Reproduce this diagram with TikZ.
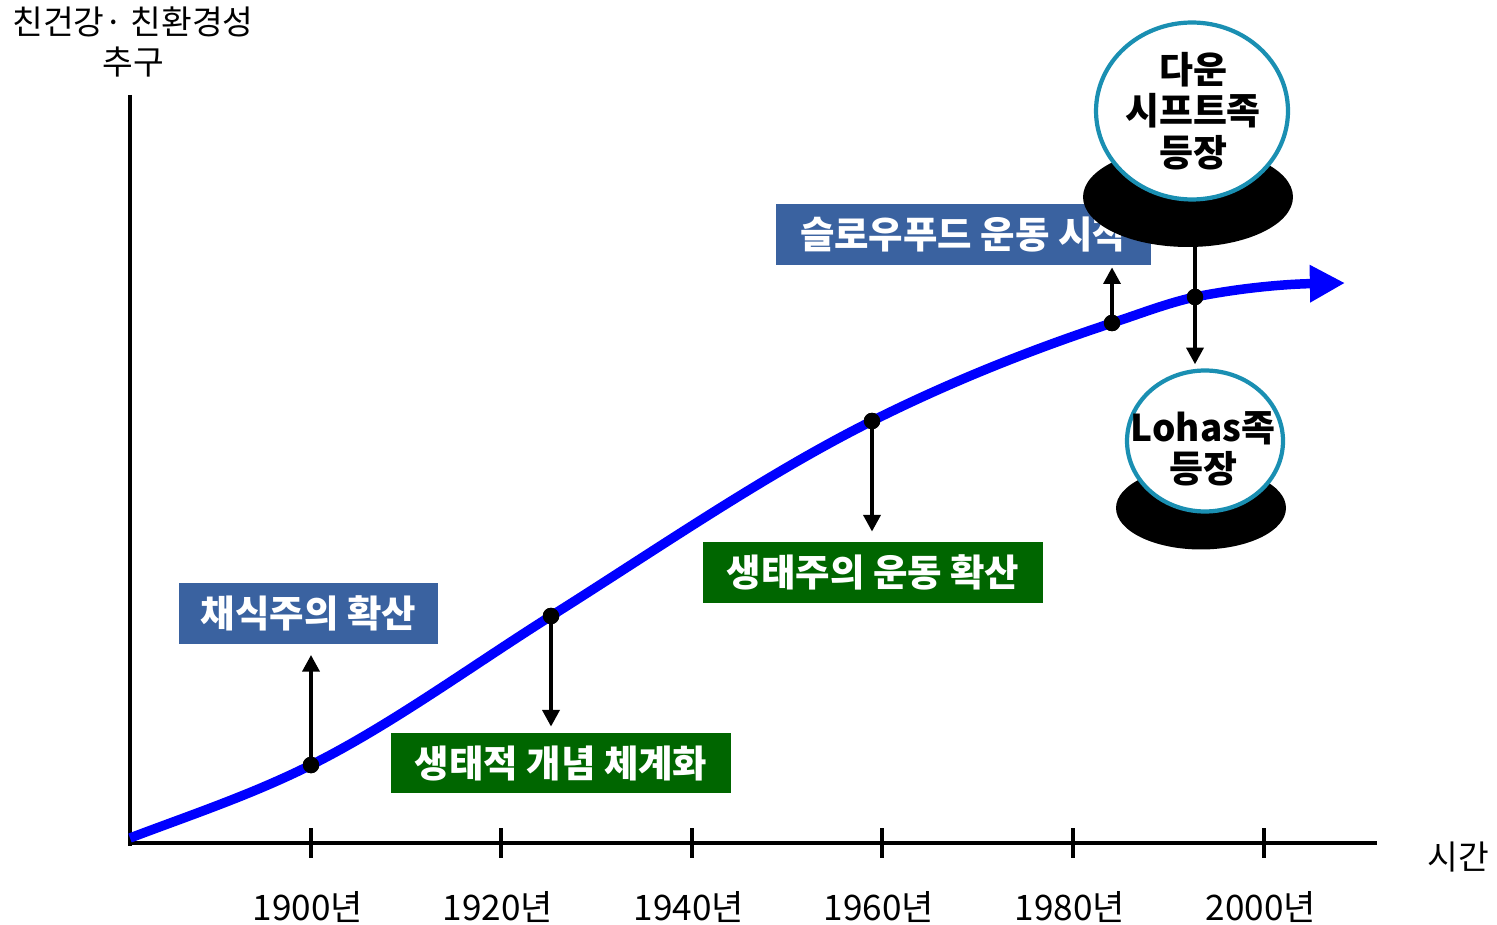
\documentclass[tikz,border=0pt]{standalone}
\usepackage{fontspec}
\setmainfont{Noto Sans CJK KR}
\usetikzlibrary{arrows.meta,shapes.geometric}
\definecolor{boxblue}{HTML}{3A62A0}
\definecolor{boxgreen}{HTML}{006600}
\definecolor{teal1}{HTML}{1A8FB2}
\definecolor{curveblue}{HTML}{0000FF}
\begin{document}
\begin{tikzpicture}[x=0.02cm,y=-0.02cm,
  axis/.style={line width=2.8pt},
  tick/.style={line width=2.8pt},
  ticklabel/.style={font=\fontsize{20}{24}\selectfont},
  dot/.style={circle,fill=black,inner sep=0pt,minimum size=0.33cm},
  arr/.style={line width=2.6pt,-{Triangle[length=9.5pt,width=9.5pt]}},
  bluebox/.style={fill=boxblue,text=white,font=\bfseries\fontsize{21.3}{24}\selectfont,inner sep=0pt},
  greenbox/.style={fill=boxgreen,text=white,font=\bfseries\fontsize{21.3}{24}\selectfont,inner sep=0pt},
  base/.style={ellipse,fill=black,inner sep=0pt},
  bubble/.style={ellipse,draw=teal1,line width=2.4pt,fill=white,inner sep=0pt},
  bubbletext/.style={align=center,inner sep=0pt,font=\bfseries\fontsize{21}{23.5}\selectfont}
]
\useasboundingbox (0,0) rectangle (1497,925);
% axes
\coordinate (ytop) at (130,95);
\coordinate (ybot) at (130,845.8);
\coordinate (xstart) at (128,843);
\coordinate (xend) at (1377,843);
\draw[axis] (ytop) -- (ybot);
\draw[axis] (xstart) -- (xend);
\foreach \x/\lab in {311/1900,501/1920,692/1940,882/1960,1073/1980,1264/2000}{
  \draw[tick] (\x,828) -- (\x,858);
  \node[ticklabel] at (\x-3,907) {\lab 년};
}
\node[font=\fontsize{19}{22.7}\selectfont,align=center] (ylab) at (133,42) {친건강· 친환경성\\추구};
\node[font=\fontsize{19}{22}\selectfont] (xlab) at (1458,857) {시간};
% curve points
\coordinate (c0) at (130,838);
\node[dot] (p1) at (311,765) {};
\node[dot] (p2) at (551,616) {};
\node[dot] (p3) at (872,421) {};
\node[dot] (p4) at (1112,323) {};
\node[dot] (p5) at (1195,297) {};
\coordinate (cend) at (1345,283);
\draw[curveblue,line width=5.4pt,-{Triangle[length=20pt,width=20pt]}]
  (c0) .. controls (190,815.2) and (251,795) .. (p1.center)
  .. controls (391,725) and (471,666.4) .. (p2.center)
  .. controls (658,548.6) and (765,474.5) .. (p3.center)
  .. controls (952,381) and (1032,349.4) .. (p4.center)
  .. controls (1139.7,313.9) and (1167.3,303.1) .. (p5.center)
  .. controls (1245,287) and (1290,284) .. (cend);
\node[dot] at (p1) {};
\node[dot] at (p2) {};
\node[dot] at (p3) {};
\node[dot] at (p4) {};
\node[dot] at (p5) {};
% boxes
\node[bluebox,minimum width=5.18cm,minimum height=1.22cm] (b1) at (308.5,613.5) {채식주의 확산};
\node[greenbox,minimum width=6.8cm,minimum height=1.2cm] (b2) at (561,763) {생태적 개념 체계화};
\node[greenbox,minimum width=6.8cm,minimum height=1.22cm] (b3) at (873,572.5) {생태주의 운동 확산};
\node[bluebox,minimum width=7.5cm,minimum height=1.22cm] (b4) at (963.5,234.5) {슬로우푸드 운동 시작};
% arrows
\draw[arr,shorten >=6pt] (p1.center) -- (p1 |- b1.south);
\draw[arr,shorten >=3.4pt] (p2.center) -- (p2 |- b2.north);
\draw[arr,shorten >=5.7pt] (p3.center) -- (p3 |- b3.north);
\draw[arr,shorten >=1.1pt] (p4.center) -- (p4 |- b4.south);
% bubbles
\node[base,minimum width=4.2cm,minimum height=2cm] (e1) at (1188,197) {};
\node[base,minimum width=3.4cm,minimum height=1.66cm] (e2) at (1201,508) {};
\draw[line width=2.6pt] (p5.center) -- (p5 |- e1.south);
\node[bubble,minimum width=3.84cm,minimum height=3.54cm] (c1) at (1192,111) {};
\node[bubbletext] (t1) at (1193,111) {다운\\시프트족\\등장};
\node[bubble,minimum width=3.12cm,minimum height=2.82cm] (c2) at (1205,441) {};
\node[bubbletext] (t2) at (1203,449) {Lohas족\\등장};
\draw[arr,shorten >=2.3pt] (p5.center) -- (p5 |- c2.north);
\end{tikzpicture}
\end{document}
